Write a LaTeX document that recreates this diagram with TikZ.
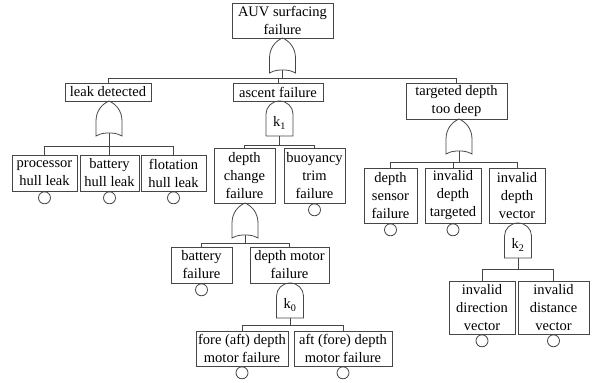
\documentclass[tikz,border=0pt]{standalone}
\usepackage{fontspec}
\setmainfont{Liberation Serif}
\usetikzlibrary{calc}
\definecolor{linec}{RGB}{70,70,70}
\newcommand\boxfont{\fontsize{14.5}{18}\selectfont}
\newcommand\orgate[2]{%
  \node[gatenode] (#1) at (#2) {};
  \draw[conn, shift={(#1.north)}] (0,0) .. controls (-7,-3) and (-13,-10) .. (-13,-20) -- (-13,-35)
    .. controls (-8,-32) and (-3,-32) .. (0,-32) .. controls (3,-32) and (8,-32) .. (13,-35)
    -- (13,-20) .. controls (13,-10) and (7,-3) .. (0,0) -- cycle;}
\newcommand\kgate[3]{%
  \node[kgatenode] (#1) at (#2) {};
  \draw[conn, shift={(#1.north)}] (-13.5,-35) -- (-13.5,-13) arc[start angle=180, end angle=0, x radius=13.5, y radius=13] -- (13.5,-35) -- cycle;
  \node[font=\boxfont, inner sep=0pt] (#1lab) at ($(#1.north)+(0,-22)$) {k\textsubscript{#3}};}
\begin{document}
\begin{tikzpicture}[x=1pt,y=1pt,
  conn/.style={draw=linec, line width=0.8pt},
  evbox/.style={draw=linec, line width=0.8pt, inner sep=0pt, align=center, font=\boxfont},
  gatenode/.style={inner sep=0pt, minimum width=26pt, minimum height=32pt, anchor=north},
  kgatenode/.style={inner sep=0pt, minimum width=27pt, minimum height=35pt, anchor=north},
  basic/.style={draw=linec, line width=0.8pt, circle, inner sep=0pt, minimum size=12pt, anchor=north}]
\useasboundingbox (0,0) rectangle (592,-383);
% event boxes
\node[evbox, minimum width=101pt, minimum height=35pt] (top) at (282.5,-20.5) {AUV surfacing\\failure};
\node[evbox, minimum width=86pt, minimum height=18pt] (leak) at (108,-92) {leak detected};
\node[evbox, minimum width=90pt, minimum height=18pt] (asc) at (278,-92) {ascent failure};
\node[evbox, minimum width=101pt, minimum height=36pt] (tgt) at (456.5,-101) {targeted depth\\too deep};
\node[evbox, minimum width=65pt, minimum height=36pt] (proc) at (44.5,-173) {processor\\hull leak};
\node[evbox, minimum width=59pt, minimum height=36pt] (bhl) at (109.5,-173) {battery\\hull leak};
\node[evbox, minimum width=65pt, minimum height=36pt] (flo) at (173.5,-173) {flotation\\hull leak};
\node[evbox, minimum width=61pt, minimum height=55pt] (dcf) at (244.5,-175.5) {depth\\change\\failure};
\node[evbox, minimum width=61pt, minimum height=55pt] (btf) at (314.5,-175.5) {buoyancy\\trim\\failure};
\node[evbox, minimum width=61pt, minimum height=36pt] (bf) at (201.5,-265) {battery\\failure};
\node[evbox, minimum width=79pt, minimum height=36pt] (dmf) at (289.5,-265) {depth motor\\failure};
\node[evbox, minimum width=92pt, minimum height=35pt] (fore) at (242,-348.5) {fore (aft) depth\\motor failure};
\node[evbox, minimum width=98pt, minimum height=35pt] (aft) at (343,-348.5) {aft (fore) depth\\motor failure};
\node[evbox, minimum width=53pt, minimum height=55pt] (dsf) at (390.5,-195.5) {depth\\sensor\\failure};
\node[evbox, minimum width=56pt, minimum height=55pt] (idt) at (453,-195.5) {invalid\\depth\\targeted};
\node[evbox, minimum width=56pt, minimum height=55pt] (idv) at (517,-195.5) {invalid\\depth\\vector};
\node[evbox, minimum width=66pt, minimum height=53pt] (idir) at (482,-307.5) {invalid\\direction\\vector};
\node[evbox, minimum width=71pt, minimum height=53pt] (idis) at (553.5,-307.5) {invalid\\distance\\vector};
% gates
\orgate{g0}{282.5,-38}
\orgate{gl}{109,-101}
\kgate{gk1}{279.5,-101}{1}
\orgate{gt}{459,-119}
\orgate{gdc}{245,-203}
\kgate{gk0}{290,-283}{0}
\kgate{gk2}{518,-223}{2}
% bus levels
\coordinate (b0) at (0,-78);
\coordinate (bl) at (0,-146);
\coordinate (bk1) at (0,-145);
\coordinate (bt) at (0,-162);
\coordinate (bdc) at (0,-243);
\coordinate (bk0) at (0,-325);
\coordinate (bk2) at (0,-269);
% connectors
\draw[conn] (g0.south) -- (g0.south |- b0);
\draw[conn] (leak.north) |- (tgt.north |- b0) -- (tgt.north);
\draw[conn] (asc.north) -- (asc.north |- b0);
\draw[conn] (gl.south) -- (gl.south |- bl);
\draw[conn] (proc.north) |- (flo.north |- bl) -- (flo.north);
\draw[conn] (bhl.north) -- (bhl.north |- bl);
\draw[conn] (gk1.south) -- (gk1.south |- bk1);
\draw[conn] (dcf.north) |- (btf.north |- bk1) -- (btf.north);
\draw[conn] (gdc.south) -- (gdc.south |- bdc);
\draw[conn] (bf.north) |- (dmf.north |- bdc) -- (dmf.north);
\draw[conn] (gk0.south) -- (gk0.south |- bk0);
\draw[conn] (fore.north) |- (aft.north |- bk0) -- (aft.north);
\draw[conn] (gt.south) -- (gt.south |- bt);
\draw[conn] (dsf.north) |- (idv.north |- bt) -- (idv.north);
\draw[conn] (idt.north) -- (idt.north |- bt);
\draw[conn] (gk2.south) -- (gk2.south |- bk2);
\draw[conn] (idir.north) |- (idis.north |- bk2) -- (idis.north);
% basic events
\node[basic] (e1) at (proc.south) {};
\node[basic] (e2) at (bhl.south) {};
\node[basic] (e3) at (flo.south) {};
\node[basic] (e4) at (btf.south) {};
\node[basic] (e5) at (bf.south) {};
\node[basic] (e6) at (fore.south) {};
\node[basic] (e7) at (aft.south) {};
\node[basic] (e8) at (dsf.south) {};
\node[basic] (e9) at (idt.south) {};
\node[basic] (e10) at (idir.south) {};
\node[basic] (e11) at (idis.south) {};
\end{tikzpicture}
\end{document}
